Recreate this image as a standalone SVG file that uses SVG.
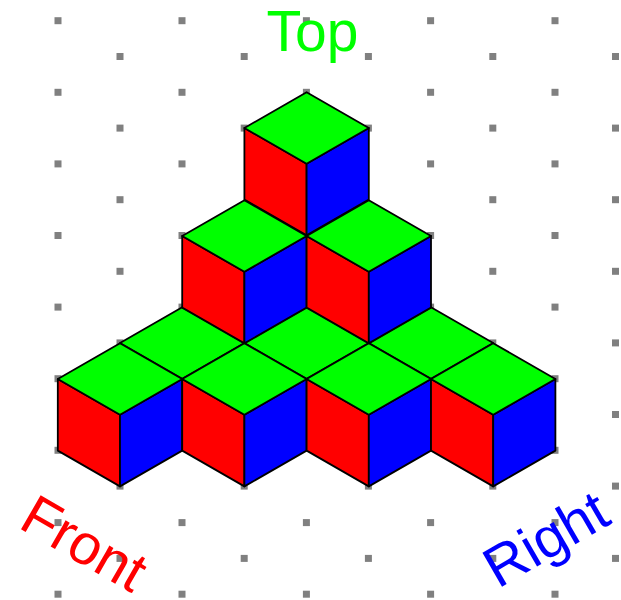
<svg xmlns="http://www.w3.org/2000/svg" width="621" height="600" viewBox="0 0 621 600">
<style>
.l{font-family:"Liberation Sans",Arial,sans-serif;font-size:57px}
.f{fill:#f00}.r{fill:#00f}.t{fill:#0f0}
polygon{stroke:#000;stroke-width:1.8;stroke-linejoin:round}
.d{fill:#808080}
</style>
<defs>
<rect id="dot" class="d" x="-3.5" y="-3.5" width="7" height="7"/>
<g id="top"><polygon class="t" points="0,0 62.2,-35.8 124.4,0 62.2,35.8"/></g>
<g id="cube">
<polygon class="f" points="0,0 62.2,35.8 62.2,107.4 0,71.6"/>
<polygon class="r" points="124.4,0 62.2,35.8 62.2,107.4 124.4,71.6"/>
<polygon class="t" points="0,0 62.2,-35.8 124.4,0 62.2,35.8"/>
</g>
</defs>
<rect width="621" height="600" fill="#fff"/>
<g id="grid">
<use href="#dot" x="58" y="20.7"/><use href="#dot" x="182" y="20.7"/><use href="#dot" x="306.4" y="20.7"/><use href="#dot" x="430.6" y="20.7"/><use href="#dot" x="555" y="20.7"/>
<use href="#dot" x="120" y="56.5"/><use href="#dot" x="244.2" y="56.5"/><use href="#dot" x="368.4" y="56.5"/><use href="#dot" x="492.8" y="56.5"/><use href="#dot" x="615.5" y="56.5"/>
<use href="#dot" x="58" y="92.3"/><use href="#dot" x="182" y="92.3"/><use href="#dot" x="306.4" y="92.3"/><use href="#dot" x="430.6" y="92.3"/><use href="#dot" x="555" y="92.3"/>
<use href="#dot" x="120" y="128.1"/><use href="#dot" x="244.2" y="128.1"/><use href="#dot" x="368.4" y="128.1"/><use href="#dot" x="492.8" y="128.1"/><use href="#dot" x="615.5" y="128.1"/>
<use href="#dot" x="58" y="163.9"/><use href="#dot" x="182" y="163.9"/><use href="#dot" x="430.6" y="163.9"/><use href="#dot" x="555" y="163.9"/>
<use href="#dot" x="120" y="199.7"/><use href="#dot" x="492.8" y="199.7"/><use href="#dot" x="615.5" y="199.7"/>
<use href="#dot" x="58" y="235.5"/><use href="#dot" x="182" y="235.5"/><use href="#dot" x="430.6" y="235.5"/><use href="#dot" x="555" y="235.5"/>
<use href="#dot" x="120" y="271.3"/><use href="#dot" x="492.8" y="271.3"/><use href="#dot" x="615.5" y="271.3"/>
<use href="#dot" x="58" y="307.1"/><use href="#dot" x="182" y="307.1"/><use href="#dot" x="430.6" y="307.1"/><use href="#dot" x="555" y="307.1"/>
<use href="#dot" x="120" y="342.9"/><use href="#dot" x="492.8" y="342.9"/><use href="#dot" x="615.5" y="342.9"/>
<use href="#dot" x="58" y="378.7"/><use href="#dot" x="555" y="378.7"/><use href="#dot" x="615.5" y="414.5"/>
<use href="#dot" x="58" y="450.3"/><use href="#dot" x="555" y="450.3"/>
<use href="#dot" x="120" y="486.1"/><use href="#dot" x="244.2" y="486.1"/><use href="#dot" x="368.4" y="486.1"/><use href="#dot" x="492.8" y="486.1"/><use href="#dot" x="615.5" y="486.1"/>
<use href="#dot" x="58" y="522.6"/><use href="#dot" x="182" y="522.6"/><use href="#dot" x="306.4" y="522.6"/><use href="#dot" x="430.6" y="522.6"/><use href="#dot" x="555" y="522.6"/>
<use href="#dot" x="120" y="558.4"/><use href="#dot" x="244.2" y="558.4"/><use href="#dot" x="368.4" y="558.4"/><use href="#dot" x="492.8" y="558.4"/><use href="#dot" x="615.5" y="558.4"/>
<use href="#dot" x="58" y="594.2"/><use href="#dot" x="182" y="594.2"/><use href="#dot" x="306.4" y="594.2"/><use href="#dot" x="430.6" y="594.2"/><use href="#dot" x="555" y="594.2"/>
</g>
<g id="back-top-1"><use href="#top" x="120" y="343"/></g>
<g id="back-top-2"><use href="#top" x="244.4" y="343"/></g>
<g id="back-top-3"><use href="#top" x="368.8" y="343"/></g>
<g id="cube-top"><use href="#cube" x="244.4" y="128"/></g>
<g id="cube-mid-1"><use href="#cube" x="182.2" y="236"/></g>
<g id="cube-mid-2"><use href="#cube" x="306.6" y="236"/></g>
<g id="cube-base-1"><use href="#cube" x="57.8" y="379"/></g>
<g id="cube-base-2"><use href="#cube" x="182.2" y="379"/></g>
<g id="cube-base-3"><use href="#cube" x="306.6" y="379"/></g>
<g id="cube-base-4"><use href="#cube" x="431" y="379"/></g>
<text id="label-top" class="l" x="266.5" y="51" fill="#0f0">Top</text>
<text id="label-front" class="l" transform="translate(17,527) rotate(30)" fill="#f00">Front</text>
<text id="label-right" class="l" transform="translate(498,589) rotate(-30)" fill="#00f">Right</text>
</svg>
